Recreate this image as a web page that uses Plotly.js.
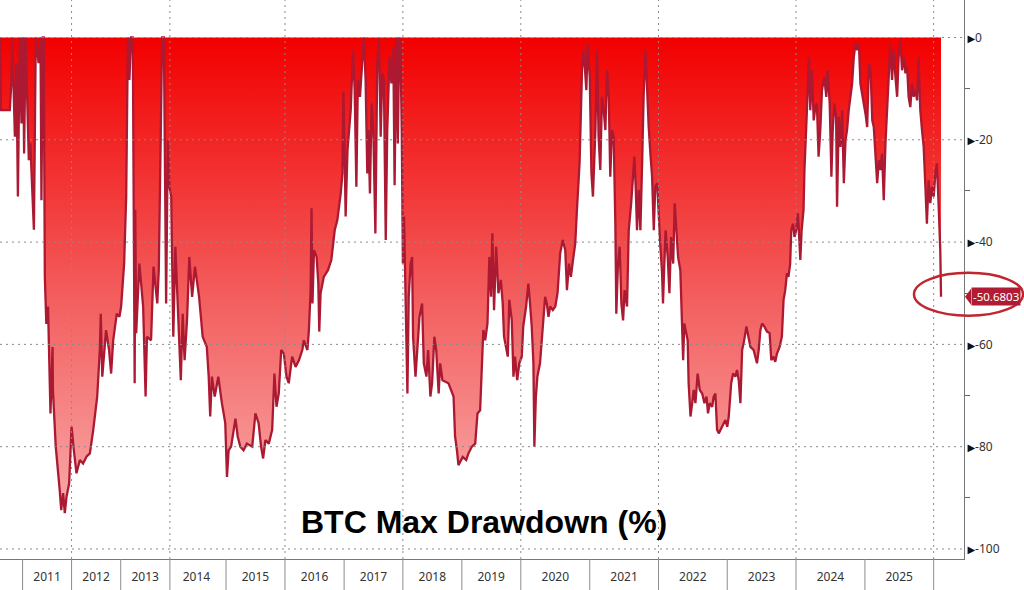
<!DOCTYPE html>
<html>
<head>
<meta charset="utf-8">
<script src="https://cdn.plot.ly/plotly-3.0.1.min.js"></script>
<style>html,body{margin:0;padding:0;background:#fff;}#chart{width:1024px;height:590px;}</style>
</head>
<body>
<div id="chart"></div>
<script>
// ---- data: time in decimal years, BTC drawdown from running max (%) ----
const tYears = [
2010.540,2010.560,2010.743,2010.777,2010.797,2010.844,2010.878,2010.911,2010.945,2010.980,
2011.012,2011.033,2011.067,2011.094,2011.129,2011.163,2011.196,2011.237,2011.271,2011.333,
2011.367,2011.388,2011.414,2011.435,2011.455,2011.490,2011.522,2011.571,2011.612,2011.624,
2011.680,2011.714,2011.761,2011.788,2011.829,2011.863,2011.898,2011.951,2012.000,2012.047,
2012.102,2012.169,2012.237,2012.306,2012.373,2012.441,2012.522,2012.578,2012.598,2012.624,
2012.700,2012.761,2012.802,2012.849,2012.918,2012.971,2013.006,2013.068,2013.109,2013.144,
2013.177,2013.212,2013.247,2013.280,2013.294,2013.315,2013.383,2013.453,2013.506,2013.535,
2013.617,2013.671,2013.741,2013.774,2013.819,2013.844,2013.877,2013.891,2013.926,2013.959,
2013.994,2014.025,2014.071,2014.113,2014.149,2014.225,2014.261,2014.296,2014.337,2014.379,
2014.426,2014.473,2014.544,2014.603,2014.674,2014.709,2014.734,2014.762,2014.810,2014.869,
2014.929,2014.988,2015.017,2015.044,2015.090,2015.159,2015.198,2015.244,2015.300,2015.358,
2015.444,2015.500,2015.556,2015.597,2015.631,2015.671,2015.727,2015.785,2015.824,2015.858,
2015.898,2015.939,2015.983,2016.029,2016.068,2016.125,2016.181,2016.237,2016.295,2016.322,
2016.380,2016.407,2016.436,2016.453,2016.469,2016.492,2016.537,2016.566,2016.583,2016.605,
2016.661,2016.729,2016.786,2016.842,2016.888,2016.944,2016.973,2016.990,2017.012,2017.029,
2017.058,2017.114,2017.153,2017.181,2017.210,2017.237,2017.271,2017.312,2017.339,2017.368,
2017.397,2017.414,2017.441,2017.469,2017.498,2017.532,2017.566,2017.593,2017.622,2017.651,
2017.678,2017.707,2017.736,2017.775,2017.803,2017.837,2017.859,2017.888,2017.915,2017.939,
2017.961,2017.983,2018.000,2018.017,2018.045,2018.074,2018.101,2018.130,2018.158,2018.175,
2018.214,2018.242,2018.281,2018.327,2018.354,2018.399,2018.428,2018.467,2018.495,2018.534,
2018.567,2018.606,2018.635,2018.673,2018.774,2018.859,2018.887,2018.916,2018.943,2019.017,
2019.073,2019.112,2019.169,2019.225,2019.264,2019.310,2019.366,2019.395,2019.434,2019.468,
2019.497,2019.519,2019.547,2019.581,2019.620,2019.661,2019.695,2019.717,2019.751,2019.780,
2019.807,2019.847,2019.875,2019.903,2019.942,2019.976,2020.015,2020.038,2020.077,2020.111,
2020.136,2020.160,2020.184,2020.198,2020.219,2020.242,2020.281,2020.306,2020.329,2020.354,
2020.379,2020.402,2020.427,2020.466,2020.500,2020.534,2020.573,2020.612,2020.646,2020.671,
2020.700,2020.729,2020.758,2020.792,2020.816,2020.854,2020.889,2020.913,2020.952,2020.971,
2021.000,2021.025,2021.049,2021.083,2021.108,2021.131,2021.156,2021.180,2021.204,2021.229,
2021.253,2021.277,2021.301,2021.326,2021.349,2021.374,2021.389,2021.413,2021.437,2021.461,
2021.486,2021.509,2021.544,2021.568,2021.603,2021.632,2021.651,2021.670,2021.690,2021.713,
2021.738,2021.767,2021.786,2021.811,2021.835,2021.859,2021.883,2021.908,2021.932,2021.956,
2021.981,2022.004,2022.029,2022.054,2022.068,2022.087,2022.106,2022.135,2022.160,2022.185,
2022.214,2022.237,2022.262,2022.287,2022.320,2022.345,2022.359,2022.378,2022.426,2022.441,
2022.466,2022.491,2022.514,2022.539,2022.572,2022.601,2022.636,2022.670,2022.699,2022.723,
2022.747,2022.782,2022.805,2022.830,2022.854,2022.878,2022.927,2022.975,2023.000,2023.023,
2023.058,2023.087,2023.120,2023.145,2023.168,2023.193,2023.217,2023.241,2023.280,2023.309,
2023.338,2023.386,2023.435,2023.458,2023.483,2023.507,2023.541,2023.580,2023.617,2023.642,
2023.675,2023.700,2023.725,2023.762,2023.797,2023.820,2023.845,2023.870,2023.893,2023.917,
2023.932,2023.957,2023.980,2024.004,2024.029,2024.044,2024.063,2024.082,2024.111,2024.125,
2024.146,2024.169,2024.190,2024.209,2024.233,2024.257,2024.282,2024.306,2024.329,2024.354,
2024.379,2024.412,2024.441,2024.460,2024.490,2024.515,2024.534,2024.558,2024.583,2024.598,
2024.621,2024.646,2024.671,2024.694,2024.719,2024.743,2024.767,2024.792,2024.816,2024.840,
2024.865,2024.889,2024.913,2024.937,2024.962,2024.985,2025.010,2025.035,2025.058,2025.083,
2025.107,2025.130,2025.155,2025.180,2025.203,2025.228,2025.252,2025.275,2025.300,2025.325,
2025.348,2025.372,2025.397,2025.420,2025.445,2025.470,2025.493,2025.517,2025.542,2025.565,
2025.590,2025.614,2025.638,2025.662,2025.687,2025.710,2025.735,2025.759,2025.783,2025.807,
2025.832,2025.855,2025.880,2025.904,2025.928,2025.952,2025.977,2026.000,2026.025,2026.049,
2026.072,2026.097,2026.107
];
const drawdown = [
0,-14.2,-14.2,-9.0,0,-19.4,-5.0,-31.1,0,-16.8,
0,-22.7,0,-10.3,-24.0,-20.7,-30.5,-37.6,0,-5.0,
0,-31.8,0,0,-46.8,-56.0,-52.6,-73.5,-60.5,-69.0,
-80.0,-83.3,-88.5,-92.4,-89.1,-93.0,-89.8,-87.2,-76.1,-80.7,
-85.2,-82.6,-83.3,-81.9,-81.3,-76.7,-70.2,-61.1,-54.0,-66.3,
-57.2,-61.1,-65.7,-59.2,-54.0,-54.6,-52.6,-44.2,-31.1,0,
-8.3,0,0,-67.6,-33.7,-57.8,-44.2,-52.6,-70.2,-58.5,
-59.2,-44.8,-52.0,-45.5,-20.0,0,0,-24.6,-52.0,-20.1,
-29.2,-31.1,-58.5,-40.9,-49.4,-67.0,-54.0,-63.1,-55.2,-42.9,
-50.7,-44.8,-50.7,-58.5,-60.5,-66.3,-74.1,-66.3,-70.2,-66.3,
-71.5,-75.4,-85.9,-80.7,-80.0,-74.5,-78.0,-80.0,-80.7,-79.4,
-80.0,-73.5,-75.4,-80.0,-82.3,-78.7,-79.4,-76.7,-65.7,-72.2,
-69.6,-61.1,-61.8,-66.3,-67.6,-62.4,-64.4,-63.1,-61.1,-59.2,
-61.1,-57.2,-49.4,-33.4,-52.0,-41.6,-42.9,-48.1,-57.5,-50.0,
-46.8,-45.5,-43.5,-37.7,-35.7,-30.5,-26.6,-10.6,-23.3,-35.0,
-22.0,-14.2,-2.5,-10.3,-29.2,-8.3,-11.6,-3.8,0,-8.3,
-26.6,-18.1,-30.5,-12.9,-18.1,-38.3,-5.1,0,-19.4,-7.0,
-8.3,-39.6,-18.1,-3.8,-9.0,-1.8,-28.9,0,-20.7,0,
-3.8,-18.1,-44.2,-35.0,-52.0,-69.6,-50.7,-44.2,-42.9,-58.5,
-66.3,-60.5,-54.6,-52.0,-63.7,-66.3,-61.1,-70.2,-67.6,-58.5,
-61.1,-69.6,-63.7,-67.0,-67.6,-70.2,-78.0,-80.7,-83.6,-82.0,
-82.6,-81.3,-80.0,-79.4,-73.5,-72.9,-57.2,-59.2,-55.9,-42.9,
-50.7,-38.3,-53.3,-40.9,-50.0,-47.4,-52.0,-58.5,-60.5,-62.4,
-51.3,-55.2,-66.3,-62.4,-67.0,-63.7,-62.4,-56.5,-52.6,-48.1,
-52.0,-56.5,-63.7,-80.0,-70.2,-66.3,-63.7,-59.8,-55.9,-50.7,
-52.0,-54.6,-52.6,-53.3,-52.6,-50.0,-42.2,-39.6,-41.6,-49.4,
-44.2,-46.8,-43.5,-40.3,-33.7,-24.6,-6.4,-2.5,-10.3,-1.2,
-7.7,-26.6,-31.1,-18.1,-2.5,-19.4,-25.9,-11.6,-14.2,-18.1,
-6.4,-11.6,-27.2,-18.1,-19.4,-36.4,-54.0,-44.2,-40.9,-52.0,
-55.3,-49.4,-52.6,-37.7,-32.4,-27.2,-23.3,-29.2,-37.7,-29.8,
-37.7,-23.3,-11.6,-2.5,-10.3,-17.5,-22.7,-27.2,-37.7,-29.2,
-28.5,-35.0,-40.9,-46.1,-52.0,-44.2,-37.7,-42.9,-50.0,-39.0,
-44.2,-32.4,-37.7,-42.9,-45.5,-54.6,-63.1,-55.9,-59.2,-67.6,
-74.1,-71.5,-68.9,-71.5,-65.7,-68.9,-69.6,-71.5,-70.2,-73.5,
-71.5,-72.2,-70.2,-69.6,-76.7,-77.4,-76.1,-74.8,-76.1,-74.1,
-67.6,-65.7,-66.3,-65.0,-67.0,-71.5,-61.1,-59.8,-56.5,-58.5,
-60.5,-61.1,-63.7,-61.1,-57.2,-55.9,-56.5,-57.5,-57.8,-63.1,
-62.4,-63.4,-61.8,-60.5,-58.5,-51.3,-49.4,-46.1,-46.8,-44.2,
-37.7,-36.4,-39.0,-37.7,-34.4,-38.3,-43.5,-37.7,-33.7,-25.9,
-20.1,-11.6,-3.8,-14.2,-6.4,-16.2,-13.6,-12.9,-23.3,-18.1,
-10.3,-7.7,-11.6,-6.4,-12.9,-27.2,-18.1,-12.9,-15.5,-33.1,
-15.5,-21.4,-14.2,-28.5,-20.1,-18.1,-14.2,-11.6,-9.0,-3.8,
-1.2,-2.5,-1.2,-9.0,-11.0,-12.9,-14.9,-17.5,-5.1,-6.4,
-16.2,-17.5,-23.3,-28.5,-24.0,-25.9,-22.7,-31.8,-20.7,-13.6,
-6.4,-1.2,-8.3,-2.5,-7.7,-11.6,-3.8,-0.5,-6.4,-3.8,
-7.0,-5.7,-11.6,-13.6,-9.0,-11.6,-10.3,-12.3,-3.8,-14.2,
-18.1,-21.4,-29.2,-36.4,-27.9,-32.4,-29.2,-31.1,-26.6,-24.6,
-32.4,-41.6,-50.6803
];
const yearLabels = ['2011','2012','2013','2014','2015','2016','2017','2018','2019','2020','2021','2022','2023','2024','2025'];
const yTicks = [0,-20,-40,-60,-80,-100];
const yMinorTicks = [-10,-30,-50,-70,-90];
const gridYears = [2012,2014,2016,2018,2020,2022,2024,2026];
const lastValue = -50.6803;
const chartTitle = 'BTC Max Drawdown (%)';

// ---- observation calendar of the source (weekdays only, then Mon-Sat, then daily) ----
const DAY = 86400000;
const iso = ms => new Date(ms).toISOString().slice(0,10);
const breakDays = [];
for (let ms = Date.UTC(2010,6,1); ms <= Date.UTC(2019,11,31); ms += DAY) {
  const dow = new Date(ms).getUTCDay();
  if (ms < Date.UTC(2014,3,15)) { if (dow === 0 || dow === 6) breakDays.push(iso(ms)); }
  else if (dow === 0) breakDays.push(iso(ms));
}
const breakSet = new Set(breakDays);
function snap(ms){ let d = iso(ms); while (breakSet.has(d)) { ms += DAY; d = iso(ms); } return d; }
function yearToDate(t){
  const y = Math.floor(t), a = Date.UTC(y,0,1), b = Date.UTC(y+1,0,1);
  return snap(a + (t - y) * (b - a));
}
const xDates = tYears.map(yearToDate);
const labelDates = yearLabels.map(y => snap(Date.UTC(+y,6,2)));
const sepDates = yearLabels.concat(['2026']).map(y => snap(Date.UTC(+y,0,1)));

const grid = '#8a8a8a';
const shapes = [];
// vertical dotted grid lines (above the fill)
gridYears.forEach(y => shapes.push({type:'line', layer:'above', xref:'x', yref:'paper',
  x0: snap(Date.UTC(y,0,1)), x1: snap(Date.UTC(y,0,1)), y0:0, y1:1,
  line:{color:grid, width:1, dash:'2px,4px'}}));
// horizontal dotted grid lines
yTicks.forEach(v => shapes.push({type:'line', layer:'above', xref:'paper', yref:'y',
  x0:0, x1:1, y0:v, y1:v, line:{color:grid, width:1, dash:'2px,4px'}}));
// year separators under the plot
sepDates.forEach(d => shapes.push({type:'line', xref:'x', yref:'paper',
  x0:d, x1:d, y0:0, y1:-0.06, line:{color:'#8c8c8c', width:1}}));
// pointer of the last-value tag
shapes.push({type:'path', xref:'paper', xsizemode:'pixel', xanchor:1, yref:'y', ysizemode:'pixel', yanchor:lastValue,
  path:'M 1 0 L 7 -8 L 7 8 Z', fillcolor:'#b01c34', line:{width:0}});
// highlight ellipse
shapes.push({type:'circle', xref:'paper', yref:'y', x0:914/964, x1:1023/964, y0:-46.0, y1:-54.4,
  line:{color:'#c0262e', width:2.5}});

const trace = {
  x: xDates, y: drawdown, type:'scatter', mode:'lines',
  line:{color:'#ab1932', width:2.3, shape:'linear'},
  fill:'tozeroy',
  fillgradient:{type:'vertical', start:-100, stop:0,
    colorscale:[[0,'rgb(250,182,182)'],[0.5,'rgb(243,92,92)'],[1,'rgb(242,0,0)']]},
  hoverinfo:'skip'
};

const tickFont = {family:'Noto Sans, DejaVu Sans, sans-serif', size:12, color:'#333'};
const layout = {
  width:1024, height:590,
  margin:{l:0, r:60, t:0, b:31, pad:0},
  paper_bgcolor:'#fff', plot_bgcolor:'#fff',
  showlegend:false,
  xaxis:{type:'date', range:['2010-07-19','2026-06-11'],
    rangebreaks:[{values: breakDays, dvalue: DAY}],
    tickmode:'array', tickvals: labelDates, ticktext: yearLabels,
    ticks:'', ticklabelstandoff:7, showgrid:false, zeroline:false,
    showline:true, linecolor:'#777', linewidth:1,
    tickfont: tickFont, automargin:false, fixedrange:true},
  yaxis:{side:'right', range:[-101.96, 7.33],
    tickmode:'array', tickvals: yTicks,
    ticktext: yTicks.map(v => '<span style="font-size:10px;fill:#111">▶</span>' + v),
    ticks:'', showgrid:false, zeroline:false,
    minor:{tickmode:'array', tickvals: yMinorTicks, ticks:'outside', ticklen:5, tickcolor:'#666', showgrid:false},
    showline:true, linecolor:'#777', linewidth:1,
    tickfont: tickFont, automargin:false, fixedrange:true},
  shapes: shapes,
  annotations:[
    {text: chartTitle, xref:'paper', yref:'y', x:484/964, y:-94.7, xanchor:'center', yanchor:'middle',
     showarrow:false, font:{family:'Liberation Sans, Arial, sans-serif', size:32, color:'#000', weight:'bold'}},
    {text: lastValue.toFixed(4), xref:'paper', yref:'y', x:1, y:lastValue, xshift:7, xanchor:'left', yanchor:'middle',
     showarrow:false, bgcolor:'#b01c34', borderpad:1,
     font:{family:'Noto Sans, DejaVu Sans, sans-serif', size:11.5, color:'#fff'}}
  ]
};
Plotly.newPlot('chart', [trace], layout, {displayModeBar:false, staticPlot:true});
</script>
</body>
</html>
